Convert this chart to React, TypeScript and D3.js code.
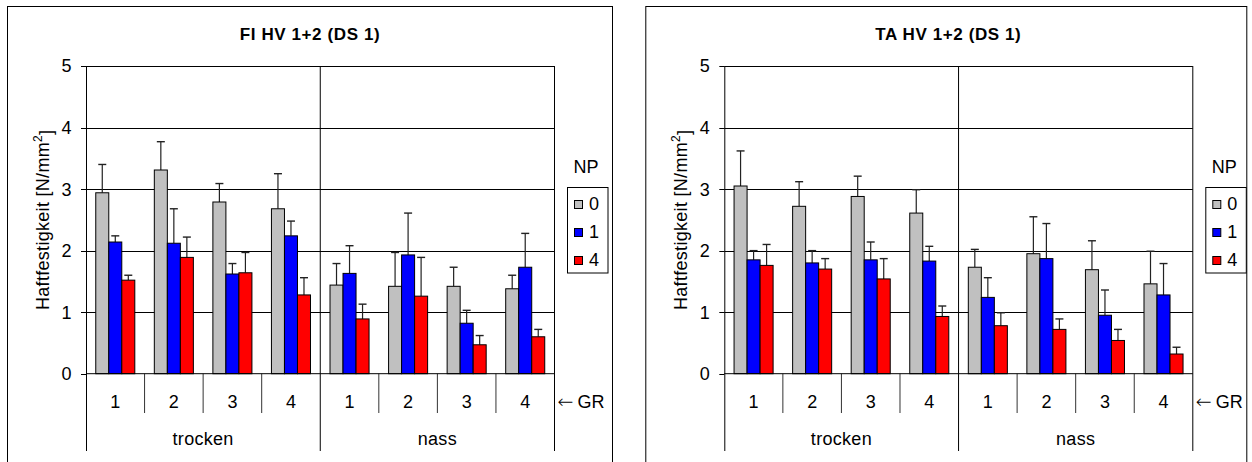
import React from "react";
import * as d3 from "d3";

const GR = ["1", "2", "3", "4"];
const CONDITIONS = ["trocken", "nass"];
const NP = ["0", "1", "4"];
const Y_TICKS = [0, 1, 2, 3, 4, 5];
const COLORS = ["#C0C0C0", "#0000FF", "#FF0000"];

// FI HV 1+2 (DS 1): means and standard deviations, categories trocken 1-4, nass 1-4
const fiMean0 = [2.94, 3.31, 2.79, 2.68, 1.44, 1.42, 1.42, 1.38];
const fiSd0 = [0.46, 0.46, 0.3, 0.57, 0.35, 0.55, 0.31, 0.22];
const fiMean1 = [2.14, 2.12, 1.62, 2.24, 1.63, 1.93, 0.82, 1.73];
const fiSd1 = [0.1, 0.56, 0.17, 0.24, 0.45, 0.68, 0.21, 0.55];
const fiMean4 = [1.52, 1.89, 1.64, 1.28, 0.89, 1.26, 0.47, 0.6];
const fiSd4 = [0.08, 0.33, 0.33, 0.28, 0.24, 0.63, 0.15, 0.12];

// TA HV 1+2 (DS 1)
const taMean0 = [3.05, 2.72, 2.88, 2.61, 1.73, 1.95, 1.69, 1.46];
const taSd0 = [0.57, 0.4, 0.33, 0.38, 0.29, 0.6, 0.47, 0.53];
const taMean1 = [1.85, 1.8, 1.85, 1.83, 1.24, 1.87, 0.95, 1.28];
const taSd1 = [0.15, 0.2, 0.29, 0.24, 0.32, 0.57, 0.41, 0.51];
const taMean4 = [1.76, 1.7, 1.54, 0.93, 0.78, 0.72, 0.54, 0.32];
const taSd4 = [0.34, 0.17, 0.33, 0.17, 0.21, 0.17, 0.18, 0.11];

const FONT = "Arial, 'Liberation Sans', sans-serif";
const FS = 18;
const LS = 0.3;

type Series = { mean: number[]; sd: number[] };

function Chart({ dx, title, series, frameRight }: { dx: number; title: string; series: Series[]; frameRight: number }) {
  const plotLeft = 86;
  const plotRight = 554.5;
  const plotTop = 66;
  const plotBottom = 373.7;
  const cats = d3.range(8).map(String);
  const x = d3.scaleBand<string>().domain(cats).range([plotLeft, plotRight]).padding(0);
  const bw = x.bandwidth();
  const barW = bw / 4.5;
  const xs = d3.scaleBand<string>().domain(NP).range([0.75 * barW, bw - 0.75 * barW]).padding(0);
  const y = d3.scaleLinear().domain([0, 5]).range([plotBottom, plotTop]);
  const groupX = d3.scaleBand<string>().domain(CONDITIONS).range([plotLeft, plotRight]).padding(0);

  return (
    <g transform={`translate(${dx},0)`} fontFamily={FONT}>
      <rect x={7.5} y={6.5} width={frameRight - 7.5} height={470} fill="white" stroke="#000" strokeWidth={1} />
      <text x={310} y={39.5} textAnchor="middle" fontWeight="bold" fontSize={17} letterSpacing={0.6}>{title}</text>
      {/* gridlines */}
      {Y_TICKS.filter((t) => t > 0).map((t) => (
        <line key={t} x1={plotLeft} x2={plotRight} y1={Math.round(y(t)) + 0.5} y2={Math.round(y(t)) + 0.5} stroke="#000" />
      ))}
      {/* y ticks */}
      {Y_TICKS.map((t) => (
        <g key={t}>
          <line x1={81} x2={plotLeft} y1={Math.round(y(t)) + 0.5} y2={Math.round(y(t)) + 0.5} stroke="#000" />
          <text x={71.5} y={y(t)} dy="0.36em" textAnchor="end" fontSize={FS}>{t}</text>
        </g>
      ))}
      {/* plot borders */}
      <line x1={plotLeft + 0.5} x2={plotLeft + 0.5} y1={plotTop} y2={451} stroke="#000" />
      <line x1={plotRight} x2={plotRight} y1={plotTop} y2={451} stroke="#000" />
      <line x1={groupX("nass")!} x2={groupX("nass")!} y1={plotTop} y2={451} stroke="#000" />
      {/* category separators */}
      {cats.map((c, i) =>
        i % 4 !== 0 ? (
          <line key={c} x1={x(c)!} x2={x(c)!} y1={plotBottom} y2={413} stroke="#333" />
        ) : null
      )}
      {/* bars */}
      {cats.map((c, i) =>
        series.map((s, k) => {
          const bx = x(c)! + xs(NP[k])!;
          const top = y(s.mean[i]);
          const etop = y(s.mean[i] + s.sd[i]);
          const cx = bx + barW / 2;
          return (
            <g key={c + "-" + k}>
              <line x1={cx} x2={cx} y1={top} y2={etop} stroke="#222" strokeWidth={1.2} />
              <line x1={cx - 4} x2={cx + 4} y1={etop} y2={etop} stroke="#222" strokeWidth={1.4} />
              <rect x={bx} y={top} width={barW} height={plotBottom - top} fill={COLORS[k]} stroke="#000" strokeWidth={1} />
            </g>
          );
        })
      )}
      {/* x axis line */}
      <line x1={plotLeft} x2={plotRight} y1={plotBottom} y2={plotBottom} stroke="#000" />
      {/* GR labels */}
      {cats.map((c, i) => (
        <text key={c} x={x(c)! + bw / 2} y={408} textAnchor="middle" fontSize={FS}>{GR[i % 4]}</text>
      ))}
      {CONDITIONS.map((g) => (
        <text key={g} x={groupX(g)! + groupX.bandwidth() / 2} y={445} textAnchor="middle" fontSize={FS} letterSpacing={LS}>{g}</text>
      ))}
      <text x={557.5} y={407.5} fontSize={FS}>
        <tspan fontFamily="'DejaVu Sans', sans-serif" fontSize={19} fontWeight={200}>←</tspan>
        <tspan dx={4}>GR</tspan>
      </text>
      {/* y axis title */}
      <text transform={`translate(48.5,${(plotTop + plotBottom) / 2}) rotate(-90)`} textAnchor="middle" fontSize={FS} letterSpacing={LS}>
        Haftfestigkeit [N/mm<tspan dy="-0.55em" fontSize={12}>2</tspan><tspan dy="0.55em">]</tspan>
      </text>
      {/* legend */}
      <text x={586} y={172.5} textAnchor="middle" fontSize={FS}>NP</text>
      <rect x={567.5} y={187.5} width={40.5} height={85.5} fill="white" stroke="#000" />
      {NP.map((n, k) => (
        <g key={n}>
          <rect x={574.5} y={200.5 + k * 28} width={8} height={8} fill={COLORS[k]} stroke="#000" />
          <text x={589} y={210 + k * 28} fontSize={FS}>{n}</text>
        </g>
      ))}
    </g>
  );
}

export default function App() {
  const fi: Series[] = [
    { mean: fiMean0, sd: fiSd0 },
    { mean: fiMean1, sd: fiSd1 },
    { mean: fiMean4, sd: fiSd4 },
  ];
  const ta: Series[] = [
    { mean: taMean0, sd: taSd0 },
    { mean: taMean1, sd: taSd1 },
    { mean: taMean4, sd: taSd4 },
  ];
  return (
    <svg width={1252} height={462} style={{ position: "absolute", left: 0, top: 0, background: "white" }}>
      <rect width={1252} height={462} fill="white" />
      <Chart dx={0} title="FI HV 1+2 (DS 1)" series={fi} frameRight={612.5} />
      <Chart dx={638.3} title="TA HV 1+2 (DS 1)" series={ta} frameRight={608.5} />
    </svg>
  );
}
